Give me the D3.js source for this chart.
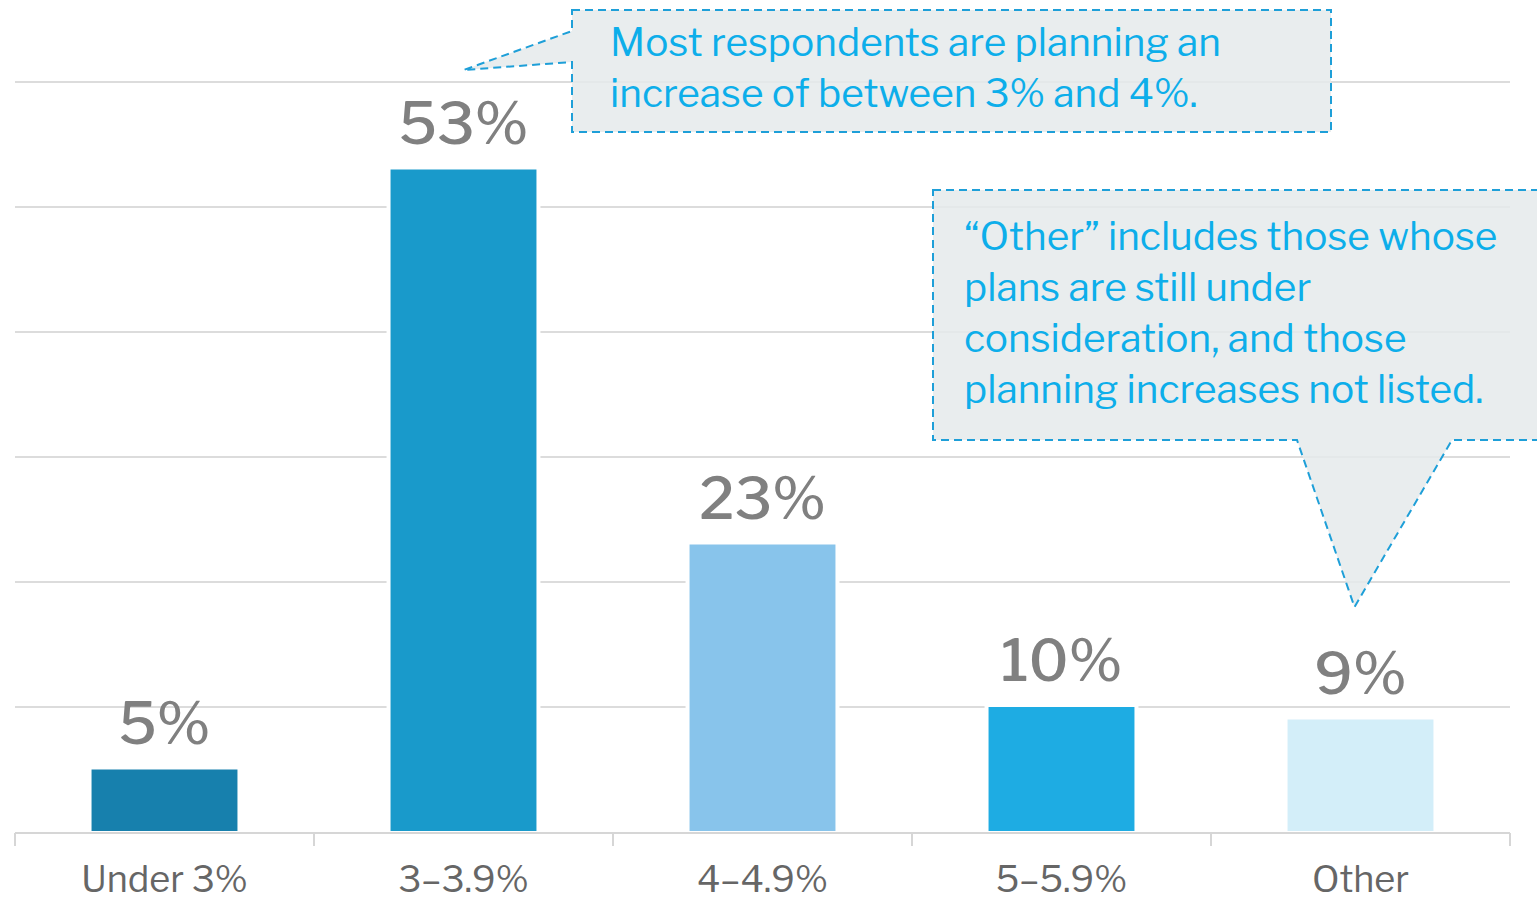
<!DOCTYPE html>
<html>
<head>
<meta charset="utf-8">
<script src="https://cdn.jsdelivr.net/npm/d3@7"></script>
<style>
  html, body { margin: 0; padding: 0; background: #fff; }
  svg { display: block; font-family: "Libre Franklin", Roboto, "Noto Sans", sans-serif; }
</style>
</head>
<body>
<svg id="chart" width="1537" height="902"></svg>
<script>
// Planned salary increase ranges and share of respondents (%)
const categories = ["Under 3%", "3\u20133.9%", "4\u20134.9%", "5\u20135.9%", "Other"];
const values = [5, 53, 23, 10, 9];
const barColors = ["#1780ad", "#199acb", "#88c4eb", "#1eace3", "#d3eef9"];
const gridTicks = [0, 10, 20, 30, 40, 50, 60];

const note1Lines = ["Most respondents are planning an", "increase of between 3% and 4%."];
const note2Lines = ["\u201cOther\u201d includes those whose", "plans are still under",
                    "consideration, and those", "planning increases not listed."];

const svg = d3.select("#chart");
const plotLeft = 15, plotRight = 1510, plotTop = 82, plotBase = 832;

const x = d3.scaleBand().domain(categories).range([plotLeft, plotRight])
  .paddingInner(0.512).paddingOuter(0.256);
const y = d3.scaleLinear().domain([0, 60]).range([plotBase, plotTop]);

// horizontal gridlines
svg.append("g").selectAll("line").data(gridTicks.filter(d => d > 0)).join("line")
  .attr("x1", plotLeft).attr("x2", plotRight)
  .attr("y1", d => y(d)).attr("y2", d => y(d))
  .attr("stroke", "#dcdcdc").attr("stroke-width", 2);

// x axis with ticks at band edges
const xAxis = svg.append("g").attr("transform", `translate(0,${plotBase + 1})`);
xAxis.append("line").attr("x1", plotLeft).attr("x2", plotRight)
  .attr("stroke", "#d6d6d6").attr("stroke-width", 2);
const edges = categories.map(c => x(c) - x.step() * x.paddingInner() / 2)
  .concat([plotRight]);
xAxis.selectAll("line.tick").data(edges).join("line").attr("class", "tick")
  .attr("x1", d => d).attr("x2", d => d).attr("y1", 0).attr("y2", 13)
  .attr("stroke", "#d6d6d6").attr("stroke-width", 2);
xAxis.selectAll("text").data(categories).join("text")
  .attr("x", d => x(d) + x.bandwidth() / 2).attr("y", 59)
  .attr("text-anchor", "middle").attr("font-size", 36).attr("fill", "#666")
  .text(d => d);

// bars with a white halo that breaks the gridlines
const bars = svg.append("g");
const data = categories.map((c, i) => ({ c, v: values[i], color: barColors[i] }));
bars.selectAll("rect.halo").data(data).join("rect").attr("class", "halo")
  .attr("x", d => x(d.c) - 4).attr("width", x.bandwidth() + 8)
  .attr("y", d => y(d.v) - 2).attr("height", d => plotBase - y(d.v) + 1)
  .attr("fill", "#fff");
bars.selectAll("rect.bar").data(data).join("rect").attr("class", "bar")
  .attr("x", d => x(d.c)).attr("width", x.bandwidth())
  .attr("y", d => y(d.v)).attr("height", d => plotBase - 1 - y(d.v))
  .attr("fill", d => d.color);

// value labels
bars.selectAll("text").data(data).join("text")
  .attr("x", d => x(d.c) + x.bandwidth() / 2).attr("y", d => y(d.v) - 26)
  .attr("text-anchor", "middle").attr("font-size", 58).attr("font-weight", 500)
  .attr("fill", "#808080")
  .text(d => d.v + "%");

// callout notes
function callout(pathPts, lines, tx, ty, lh) {
  const g = svg.append("g");
  g.append("path").attr("d", d3.line()(pathPts) + "Z")
    .attr("fill", "#e5eaeb").attr("fill-opacity", 0.85)
    .attr("stroke", "#1e9fd8").attr("stroke-width", 2)
    .attr("stroke-dasharray", "8,5");
  g.selectAll("text").data(lines).join("text")
    .attr("x", tx).attr("y", (d, i) => ty + i * lh)
    .attr("font-size", 38.8).attr("fill", "#0daeea").text(d => d);
}

const tip1 = [x(categories[1]) + x.bandwidth() / 2, 70];
callout([[572, 10], [1331, 10], [1331, 132], [572, 132], [572, 62], tip1, [572, 31]],
  note1Lines, 610, 56, 51);

const tip2 = [x(categories[4]) + x.bandwidth() / 2 - 6, 607];
callout([[933, 190], [1560, 190], [1560, 440], [1452, 440], tip2, [1297, 440], [933, 440]],
  note2Lines, 964, 250, 51);
</script>
</body>
</html>
